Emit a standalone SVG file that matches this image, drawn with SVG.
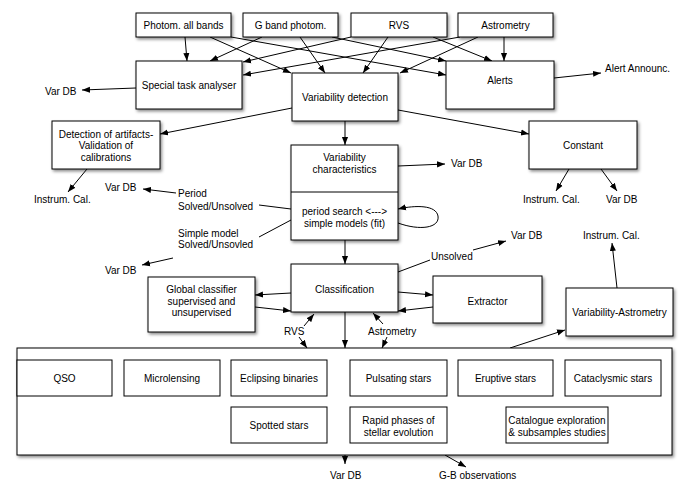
<svg xmlns="http://www.w3.org/2000/svg" width="690" height="488" viewBox="0 0 690 488">
<style>
text{font-family:"Liberation Sans",Arial,sans-serif;font-size:10px;fill:#000}
.m{text-anchor:middle}
.b{fill:#fff;stroke:#000;stroke-width:1}
.s{filter:url(#sh)}
.c line,.c path{stroke:#000;stroke-width:1;fill:none}
.a{marker-end:url(#ah)}
</style>
<defs>
<filter id="sh" x="-10%" y="-10%" width="130%" height="140%">
<feDropShadow dx="1.5" dy="2" stdDeviation="1.5" flood-color="#000" flood-opacity="0.45"/>
</filter>
<marker id="ah" viewBox="0 0 10 10" refX="10" refY="5" markerWidth="8" markerHeight="8" markerUnits="userSpaceOnUse" orient="auto">
<path d="M0,1.2 L10,5 L0,8.8 z" fill="#000"/>
</marker>
</defs>

<g class="c" id="connectors">
<line class="a" x1="185" y1="37" x2="187" y2="61"/>
<line class="a" x1="210" y1="37" x2="291" y2="73"/>
<line class="a" x1="231" y1="37" x2="446" y2="75"/>
<line class="a" x1="262" y1="37" x2="210" y2="61"/>
<line class="a" x1="300" y1="37" x2="325" y2="73"/>
<line class="a" x1="332" y1="37" x2="446" y2="61"/>
<line class="a" x1="351" y1="37" x2="243" y2="62"/>
<line class="a" x1="388" y1="37" x2="363" y2="73"/>
<line class="a" x1="433" y1="37" x2="492" y2="61"/>
<line class="a" x1="460" y1="37" x2="243" y2="75"/>
<line class="a" x1="478" y1="37" x2="400" y2="73"/>
<line class="a" x1="504" y1="37" x2="504" y2="61"/>
<line class="a" x1="554" y1="78" x2="601" y2="73"/>
<line class="a" x1="136" y1="88" x2="82" y2="90"/>
<line class="a" x1="292" y1="108" x2="160" y2="134"/>
<line class="a" x1="398" y1="110" x2="529" y2="134"/>
<line class="a" x1="345" y1="121" x2="345" y2="145"/>
<line class="a" x1="87" y1="169" x2="68" y2="192"/>
<line class="a" x1="569" y1="169" x2="556" y2="191"/>
<line class="a" x1="601" y1="169" x2="617" y2="191"/>
<line class="a" x1="398" y1="166" x2="445" y2="164"/>
<line class="a" x1="176" y1="193" x2="143" y2="189"/>
<line x1="259" y1="205" x2="291" y2="209"/>
<line x1="259" y1="237" x2="291" y2="220"/>
<line class="a" x1="173" y1="258" x2="142" y2="265"/>
<path class="a" d="M398,223 C420,231 440,228 438,216 C436,205 416,205 398,209"/>
<line class="a" x1="345" y1="240" x2="345" y2="264"/>
<line class="a" x1="291" y1="293" x2="255" y2="295"/>
<line class="a" x1="255" y1="307" x2="291" y2="311"/>
<line class="a" x1="398" y1="292" x2="433" y2="295"/>
<line class="a" x1="433" y1="307" x2="398" y2="311"/>
<line x1="398" y1="272" x2="430" y2="260"/>
<line class="a" x1="473" y1="250" x2="506" y2="241"/>
<line class="a" x1="617" y1="288" x2="612" y2="243"/>
<line class="a" x1="510" y1="348" x2="565" y2="330"/>
<line class="a" x1="345" y1="312" x2="345" y2="348"/>
<line class="a" x1="304" y1="326" x2="314" y2="314"/>
<line class="a" x1="299" y1="337" x2="307" y2="348"/>
<line class="a" x1="383" y1="324" x2="373" y2="313"/>
<line class="a" x1="387" y1="337" x2="382" y2="348"/>
<line class="a" x1="345" y1="455" x2="345" y2="464"/>
<line class="a" x1="445" y1="455" x2="466" y2="467"/>
</g>

<g id="photom"><rect class="b s" x="136" y="13" width="95" height="24"/><text class="m" x="183.5" y="28.5">Photom. all bands</text></g>
<g id="gband"><rect class="b s" x="243" y="13" width="95" height="24"/><text class="m" x="290.5" y="28.5">G band photom.</text></g>
<g id="rvs"><rect class="b s" x="351" y="13" width="96" height="24"/><text class="m" x="399" y="28.5">RVS</text></g>
<g id="astrometry"><rect class="b s" x="458" y="13" width="95" height="24"/><text class="m" x="505.5" y="28.5">Astrometry</text></g>

<g id="special"><rect class="b s" x="136" y="61" width="106" height="48"/><text class="m" x="189" y="89">Special task analyser</text></g>
<g id="vardetect"><rect class="b s" x="292" y="73" width="106" height="48"/><text class="m" x="345" y="101">Variability detection</text></g>
<g id="alerts"><rect class="b s" x="446" y="61" width="108" height="48"/><text class="m" x="500" y="83.5">Alerts</text></g>
<g id="alertann"><text x="605" y="72">Alert Announc.</text></g>

<g id="artifacts"><rect class="b s" x="52" y="121" width="108" height="48"/>
<text class="m" x="106" y="137.5">Detection of artifacts-</text>
<text class="m" x="106" y="149">Validation of</text>
<text class="m" x="106" y="160.5">calibrations</text></g>
<g id="constant"><rect class="b s" x="529" y="121" width="108" height="48"/><text class="m" x="583" y="148.5">Constant</text></g>

<g id="varchar"><rect class="b s" x="291" y="145" width="107" height="95"/>
<line x1="291" y1="192" x2="398" y2="192" stroke="#000" stroke-width="1"/>
<text class="m" x="344.5" y="160.5">Variability</text>
<text class="m" x="344.5" y="172.5">characteristics</text>
<text class="m" x="344.5" y="214.5">period search &lt;---&gt;</text>
<text class="m" x="344.5" y="226.5">simple models (fit)</text></g>

<g id="classification"><rect class="b s" x="291" y="264" width="107" height="48"/><text class="m" x="344.5" y="292.5">Classification</text></g>
<g id="global"><rect class="b s" x="148" y="277" width="107" height="55"/>
<text class="m" x="201.5" y="292.5">Global classifier</text>
<text class="m" x="201.5" y="304.5">supervised and</text>
<text class="m" x="201.5" y="315.5">unsupervised</text></g>
<g id="extractor"><rect class="b s" x="433" y="276" width="109" height="47"/><text class="m" x="487.5" y="304.5">Extractor</text></g>
<g id="varastro"><rect class="b s" x="566" y="288" width="107" height="48"/><text class="m" x="619.5" y="315.5">Variability-Astrometry</text></g>

<g id="labels">
<text x="45" y="94.5">Var DB</text>
<text x="34" y="202.5">Instrum. Cal.</text>
<text x="105" y="190.5">Var DB</text>
<text x="178" y="196.5">Period</text>
<text x="178" y="209.5">Solved/Unsolved</text>
<text x="178" y="236.5">Simple model</text>
<text x="178" y="247.5">Solved/Unsovled</text>
<text x="105" y="273.5">Var DB</text>
<text x="451" y="166.5">Var DB</text>
<text x="523" y="202.5">Instrum. Cal.</text>
<text x="606" y="202.5">Var DB</text>
<text x="511" y="238.5">Var DB</text>
<text x="583" y="238.5">Instrum. Cal.</text>
<text x="431" y="259.5">Unsolved</text>
<text x="284" y="334.5">RVS</text>
<text x="368" y="334.5">Astrometry</text>
<text x="330" y="478.5">Var DB</text>
<text x="439" y="478.5">G-B observations</text>
</g>

<g id="container"><rect class="b s" x="17" y="348" width="655" height="107"/></g>
<g id="qso"><rect class="b" x="17" y="360" width="95" height="36"/><text class="m" x="64.5" y="381.5">QSO</text></g>
<g id="microlensing"><rect class="b" x="124" y="360" width="96" height="36"/><text class="m" x="172" y="381.5">Microlensing</text></g>
<g id="eclipsing"><rect class="b" x="231" y="360" width="96" height="36"/><text class="m" x="279" y="381.5">Eclipsing binaries</text></g>
<g id="pulsating"><rect class="b" x="350" y="360" width="97" height="36"/><text class="m" x="398.5" y="381.5">Pulsating stars</text></g>
<g id="eruptive"><rect class="b" x="458" y="360" width="95" height="36"/><text class="m" x="505.5" y="381.5">Eruptive stars</text></g>
<g id="cataclysmic"><rect class="b" x="565" y="360" width="96" height="36"/><text class="m" x="613" y="381.5">Cataclysmic stars</text></g>
<g id="spotted"><rect class="b" x="231" y="407" width="96" height="36"/><text class="m" x="279" y="429">Spotted stars</text></g>
<g id="rapid"><rect class="b" x="350" y="407" width="97" height="36"/>
<text class="m" x="398.5" y="424">Rapid phases of</text>
<text class="m" x="398.5" y="435.5">stellar evolution</text></g>
<g id="catalogue"><rect class="b" x="506" y="407" width="102" height="36"/>
<text class="m" x="557" y="424">Catalogue exploration</text>
<text class="m" x="557" y="435.5">&amp; subsamples studies</text></g>
</svg>
